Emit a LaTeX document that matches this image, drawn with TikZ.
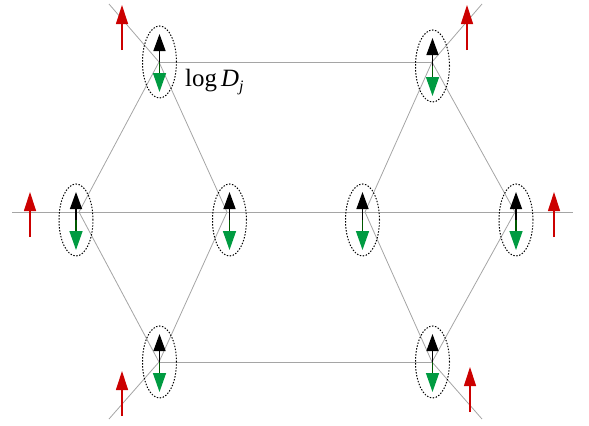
\documentclass[tikz,border=0pt]{standalone}
\usepackage{fontspec}
\setmainfont{Liberation Serif}
\usetikzlibrary{arrows.meta, shapes.geometric}
\definecolor{spinred}{RGB}{204,0,0}
\definecolor{spingreen}{RGB}{0,155,65}
\definecolor{bondgray}{RGB}{165,165,165}
\tikzset{bond/.style={draw=bondgray, line width=0.8bp},
    cell/.style={ellipse, draw, dash pattern=on 1.4bp off 1.6bp, line width=1bp,
        minimum width=34bp, minimum height=72bp, inner sep=0pt},
    upspin/.style={-{Triangle[length=17bp,width=12bp]}, line width=1.4bp, black},
    downspin/.style={-{Triangle[length=19bp,width=13bp,color=spingreen]},
        line width=1.4bp, green!35!black},
    field/.style={-{Triangle[length=19bp,width=12bp]}, line width=1.2bp, spinred}}

\begin{document}
\begin{tikzpicture}[x=1bp, y=-1bp]
    \useasboundingbox (0,0) rectangle (589,425);

    % Lattice sites (bond crossings)
    \coordinate (tl) at (159,62);
    \coordinate (tr) at (432,62);
    \coordinate (ml) at (79,212);
    \coordinate (mlr) at (227,212);
    \coordinate (mrl) at (365,212);
    \coordinate (mr) at (515,212);
    \coordinate (bl) at (159,362);
    \coordinate (br) at (432,362);
    % Free ends of the bonds
    \coordinate (tlend) at (109,4);
    \coordinate (trend) at (482,4);
    \coordinate (blend) at (109,419);
    \coordinate (brend) at (482,419);
    \coordinate (west) at (12,212);
    \coordinate (east) at (573,212);

    % Bonds
    \draw[bond] (tl) -- (tr);
    \draw[bond] (bl) -- (br);
    \draw[bond] (west) -- (east);
    \draw[bond] (ml) -- (tl) -- (mlr) -- (bl) -- cycle;
    \draw[bond] (mrl) -- (tr) -- (mr) -- (br) -- cycle;
    \draw[bond] (tlend) -- (tl);
    \draw[bond] (trend) -- (tr);
    \draw[bond] (blend) -- (bl);
    \draw[bond] (brend) -- (br);

    % Spin pairs in dotted cells
    \foreach \n/\px/\py in {c1/159.5/62, c2/432.5/66, c3/76/220, c4/229.5/220,
        c5/362.5/220, c6/516/220, c7/159.5/362, c8/432.5/362} {
        \node[cell] (\n) at (\px,\py) {};
        \draw[downspin] (\n.center) -- ++(0,30);
        \draw[upspin] (\n.center) -- ++(0,-28);
    }

    % External field arrows
    \foreach \n/\px/\py in {f1/122/50, f2/467/50, f3/30/237, f4/554/237,
        f5/122/416, f6/470/412} {
        \coordinate (\n) at (\px,\py);
        \draw[field] (\n) -- ++(0,-45);
    }

    % Label
    \node[anchor=base west, inner sep=0pt, font=\fontsize{25}{30}\selectfont]
        (logd) at (185,86.7) {log\,\textit{D}\raisebox{-5bp}{\fontsize{16}{17}\selectfont\textit{j}}};
\end{tikzpicture}
\end{document}
